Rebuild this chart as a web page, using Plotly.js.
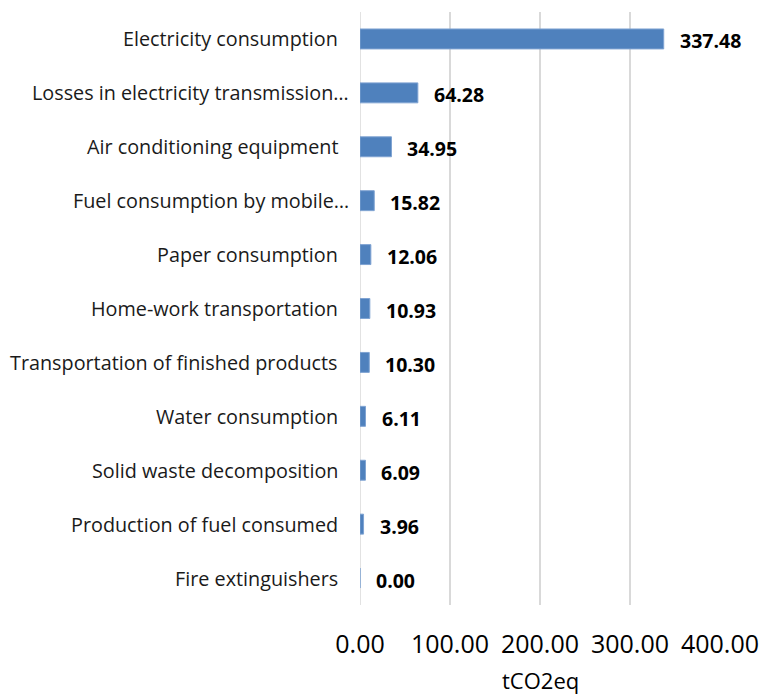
<!DOCTYPE html>
<html><head><meta charset="utf-8">
<script src="https://cdn.plot.ly/plotly-3.0.1.min.js"></script>
<style>html,body{margin:0;padding:0;background:#fff;}#chart{width:773px;height:695px;}</style>
</head><body><div id="chart"></div>
<script>
const categories = ["Electricity consumption","Losses in electricity transmission…","Air conditioning equipment","Fuel consumption by mobile…","Paper consumption","Home-work transportation","Transportation of finished products","Water consumption","Solid waste decomposition","Production of fuel consumed","Fire extinguishers"];
const values = [337.48,64.28,34.95,15.82,12.06,10.93,10.30,6.11,6.09,3.96,0.00];
const xTicks = [0,100,200,300,400];
const xTickLabels = ["0.00","100.00","200.00","300.00","400.00"];
const xTitle = "tCO2eq";
const FONT = "Open Sans, sans-serif";

const annotations = [];
categories.forEach((c,i)=>{
  annotations.push({x:0,xref:'paper',y:c,yref:'y',text:c,showarrow:false,xanchor:'right',
    xshift: c.endsWith('…') ? -9 : -20, font:{family:FONT,size:19.8,color:'#1a1a1a'}});
  annotations.push({x:values[i],xref:'x',y:c,yref:'y',text:'<b>'+values[i].toFixed(2)+'</b>',showarrow:false,
    xanchor:'left',xshift:14,yshift:-2,font:{family:FONT,size:19.5,color:'#000'}});
});
annotations.push({x:0.5,xref:'paper',y:0,yref:'paper',text:xTitle,showarrow:false,xanchor:'center',yanchor:'middle',
  yshift:-75,font:{family:FONT,size:22,color:'#000'}});

Plotly.newPlot('chart',[{
  type:'bar',orientation:'h',x:values,y:categories,width:0.37,
  marker:{color:'#4F81BD',line:{color:'#7FA3D2',width:1}},hoverinfo:'none'
}],{
  width:773,height:695,margin:{l:360,r:53,t:12,b:90},
  paper_bgcolor:'#fff',plot_bgcolor:'#fff',showlegend:false,
  xaxis:{range:[0,400],tickvals:xTicks,ticktext:xTickLabels,showgrid:true,gridcolor:'#d9d9d9',gridwidth:1.5,
    zeroline:false,showline:false,ticks:'',ticklabelstandoff:22,tickfont:{family:FONT,size:25,color:'#000'}},
  yaxis:{type:'category',autorange:'reversed',showticklabels:false,showgrid:false,zeroline:false,showline:false,ticks:''},
  shapes:[{type:'line',xref:'x',yref:'paper',x0:0,x1:0,y0:0,y1:1,line:{color:'#d9d9d9',width:1.5},layer:'below'}],
  annotations:annotations
},{staticPlot:true});
</script></body></html>
